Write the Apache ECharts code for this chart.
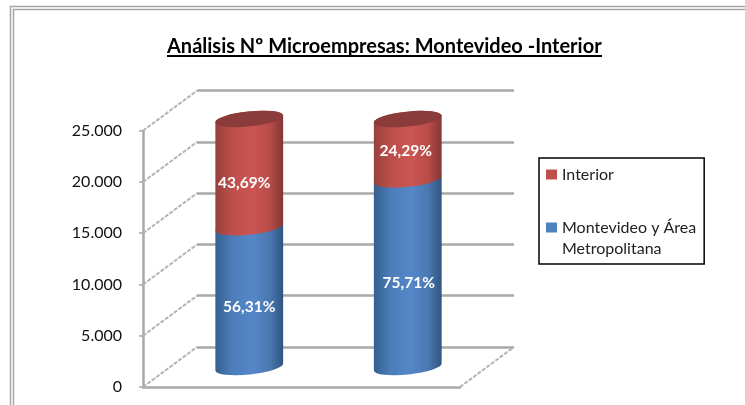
<!DOCTYPE html>
<html>
<head>
<meta charset="utf-8">
<style>
  html, body { margin: 0; padding: 0; background: #fff; }
  #chart { width: 745px; height: 405px; }
</style>
<script src="https://cdn.jsdelivr.net/npm/echarts@6/dist/echarts.min.js"></script>
</head>
<body>
<div id="chart"></div>
<script>
const categories = ['Grupo 1', 'Grupo 2']
const interiorName = 'Interior'
const montevideoName = 'Montevideo y Área Metropolitana'
const montevideo = [13630, 18300]
const interior = [10570, 5880]
const montevideoLabels = ['56,31%', '75,71%']
const interiorLabels = ['43,69%', '24,29%']
const yTicks = [0, 5000, 10000, 15000, 20000, 25000]

const FONT = 'Lato, "Open Sans", sans-serif'
const WALL = '#a8a8a8'
// fake 3d: how far the back wall sits from the front plane
const depth = { x: 54, y: -40 }
const tilt = 6

const blueFill = { type: 'linear', x: 0, y: 0, x2: 1, y2: 0, colorStops: [
  { offset: 0, color: '#35608f' }, { offset: 0.25, color: '#4c7dba' },
  { offset: 0.55, color: '#5587c8' }, { offset: 0.8, color: '#4a78b0' }, { offset: 1, color: '#2f5480' }
] }
const redFill = { type: 'linear', x: 0, y: 0, x2: 1, y2: 0, colorStops: [
  { offset: 0, color: '#96403d' }, { offset: 0.25, color: '#bd4f4b' },
  { offset: 0.55, color: '#cc5552' }, { offset: 0.8, color: '#b84c49' }, { offset: 1, color: '#843634' }
] }

function cylinder(fill, labels, nudge, withTop) {
  return (params, api) => {
    const i = api.value(0)
    const base = api.coord([i, api.value(1)])
    const top = api.coord([i, api.value(2)])
    const cx = base[0] + depth.x / 2
    const yb = base[1] + depth.y / 2
    const yt = top[1] + depth.y / 2
    const rx = api.size([1, 0])[0] * 0.215
    const ry = 7.5
    const dx = rx * Math.cos(tilt * Math.PI / 180)
    const dy = rx * Math.sin(tilt * Math.PI / 180)
    const arc = (x, y, sweep) => `A${rx} ${ry} ${-tilt} 0 ${sweep} ${x} ${y}`
    const children = [{
      type: 'path',
      shape: {
        pathData: `M${cx - dx} ${yb + dy}` + arc(cx + dx, yb - dy, 0) +
          `L${cx + dx} ${yt - dy}` + arc(cx - dx, yt + dy, 0) + 'Z'
      },
      style: { fill: fill }
    }]
    if (withTop) {
      children.push({
        type: 'path',
        shape: {
          pathData: `M${cx - dx} ${yt + dy}` + arc(cx + dx, yt - dy, 1) + arc(cx - dx, yt + dy, 1) + 'Z'
        },
        style: { fill: '#8b3b39' }
      })
    }
    children.push({
      type: 'text',
      z2: 10,
      style: {
        text: labels[params.dataIndex],
        x: cx + nudge[params.dataIndex][0],
        y: (yb + yt) / 2 + nudge[params.dataIndex][1],
        fill: '#fff',
        font: 'bold 15.5px ' + FONT,
        align: 'center',
        verticalAlign: 'middle'
      }
    })
    return { type: 'group', children: children }
  }
}

// side wall and floor lines going back from the front plane
function sideLine(params, api) {
  const p = api.coord([0, api.value(0)])
  const x = params.coordSys.x
  const lines = [[x, p[1]]]
  if (params.dataIndex === 0) lines.push([x + params.coordSys.width, p[1]])
  return {
    type: 'group',
    children: lines.map(l => ({
      type: 'line',
      shape: { x1: l[0], y1: l[1], x2: l[0] + depth.x, y2: l[1] + depth.y },
      style: { stroke: '#b4b4b4', lineWidth: 2, lineDash: [4, 1.5] }
    }))
  }
}

const chart = echarts.init(document.getElementById('chart'), null, { renderer: 'canvas' })
chart.setOption({
  animation: false,
  backgroundColor: '#fff',
  title: {
    text: 'Análisis Nº Microempresas: Montevideo -Interior',
    left: 167,
    top: 37,
    padding: 0,
    textStyle: { fontFamily: FONT, fontSize: 20, fontWeight: 'bold', color: '#000' }
  },
  legend: {
    orient: 'vertical',
    left: 539,
    top: 158,
    padding: [6, 8, 5, 7],
    icon: 'rect',
    itemWidth: 11,
    itemHeight: 10,
    itemGap: 11,
    backgroundColor: '#fff',
    borderColor: '#000',
    borderWidth: 1.5,
    data: [interiorName, montevideoName],
    formatter: name => name === montevideoName ? ' \nMontevideo y Área\nMetropolitana' : name,
    textStyle: { fontFamily: FONT, fontSize: 16, lineHeight: 21, color: '#222' }
  },
  grid: [
    { left: 143, top: 130.7, width: 317, height: 256.3 },
    { left: 197, top: 90.7, width: 317, height: 256.3 }
  ],
  xAxis: [
    { type: 'category', gridIndex: 0, data: categories,
      axisLine: { lineStyle: { color: WALL, width: 2.5 } }, axisTick: { show: false }, axisLabel: { show: false } },
    { type: 'category', gridIndex: 1, data: categories, show: false }
  ],
  yAxis: [
    { type: 'value', gridIndex: 0, min: 0, max: 25000, interval: 5000,
      axisLine: { show: true, lineStyle: { color: WALL, width: 2.5 } },
      axisTick: { show: true, length: 4, lineStyle: { color: WALL, width: 1.5 } },
      splitLine: { show: false },
      axisLabel: {
        margin: 21,
        color: '#111',
        fontFamily: FONT,
        fontSize: 16,
        formatter: v => String(v).replace(/\B(?=(\d{3})+$)/g, '.')
      } },
    { type: 'value', gridIndex: 1, min: 0, max: 25000, interval: 5000,
      axisLine: { show: false }, axisTick: { show: false }, axisLabel: { show: false },
      splitLine: { show: true, lineStyle: { color: WALL, width: 2.5 } } }
  ],
  series: [
    { type: 'custom', name: 'walls', silent: true, xAxisIndex: 0, yAxisIndex: 0, z: 1,
      data: yTicks.map(v => [v]), encode: { y: 0 }, renderItem: sideLine },
    { type: 'custom', name: montevideoName, xAxisIndex: 0, yAxisIndex: 0, z: 3,
      itemStyle: { color: '#4f81bd' },
      data: categories.map((c, i) => [i, 0, montevideo[i]]),
      encode: { x: 0, y: [1, 2] },
      renderItem: cylinder(blueFill, montevideoLabels, [[0, 10], [1, 10]], false) },
    { type: 'custom', name: interiorName, xAxisIndex: 0, yAxisIndex: 0, z: 4,
      itemStyle: { color: '#c0504d' },
      data: categories.map((c, i) => [i, montevideo[i], montevideo[i] + interior[i]]),
      encode: { x: 0, y: [1, 2] },
      renderItem: cylinder(redFill, interiorLabels, [[-5, 10], [-2, 1.7]], true) }
  ],
  graphic: [
    // outer frame runs off the right and bottom of the picture
    { type: 'rect', shape: { x: 10.5, y: 6.5, width: 800, height: 500 }, style: { fill: null, stroke: '#a6a6a6', lineWidth: 1.5 } },
    { type: 'rect', shape: { x: 13.5, y: 9.5, width: 800, height: 500 }, style: { fill: null, stroke: '#a6a6a6', lineWidth: 1.5 } },
    // title underline
    { type: 'rect', shape: { x: 167, y: 55, width: 435, height: 2 }, style: { fill: '#000' } }
  ]
})
</script>
</body>
</html>
